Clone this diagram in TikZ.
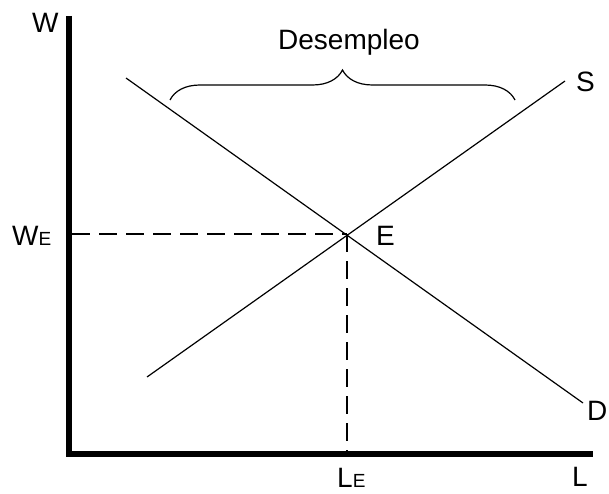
\documentclass[tikz,border=0pt]{standalone}
\usepackage{fontspec}
\setmainfont{Liberation Sans}
\usetikzlibrary{decorations.pathreplacing}
\newcommand{\subE}{{\fontsize{19}{20}\selectfont E}}

\begin{document}
\begin{tikzpicture}[x=1pt,y=-1pt,
  every node/.style={inner sep=0pt,font=\fontsize{28}{30}\selectfont},
  curve/.style={line width=1.2pt},
  guide/.style={line width=1.2pt,dash pattern=on 18pt off 9pt}]
  \useasboundingbox (0,0) rectangle (609,494);
  % axes
  \coordinate (top) at (69,16);
  \coordinate (O) at (69,454);
  \coordinate (right) at (593,454);
  \draw[line width=6.5pt,line join=miter] (top) -- (O) -- (right);
  % supply and demand
  \coordinate (E) at (347,234);
  \coordinate (d1) at (126,78);
  \coordinate (d2) at (583,403);
  \coordinate (s1) at (147,377);
  \coordinate (s2) at (565,81);
  \draw[curve] (d1) -- (d2);
  \draw[curve] (s1) -- (s2);
  % equilibrium guides
  \coordinate (wE) at (72,234);
  \coordinate (lE) at (347,451);
  \draw[guide] (wE) -- (E);
  \draw[guide] (E) -- (lE);
  % unemployment brace
  \coordinate (b1) at (170,100);
  \coordinate (b2) at (515,100);
  \draw[curve,decorate,decoration={brace,amplitude=30pt}] (b1) -- (b2);
  % labels
  \node[anchor=base] (desempleo) at (349,50) {Desempleo};
  \node[anchor=base west] (wlab) at (32,33) {W};
  \node[anchor=base west] (llab) at (572,486) {L};
  \node[anchor=base west] (slab) at (576,92) {S};
  \node[anchor=base west] (dlab) at (587,420) {D};
  \node[anchor=base west] (elab) at (376,245) {E};
  \node[anchor=base west] (welab) at (12,245) {W\subE};
  \node[anchor=base west] (lelab) at (337,487) {L\subE};
\end{tikzpicture}
\end{document}
